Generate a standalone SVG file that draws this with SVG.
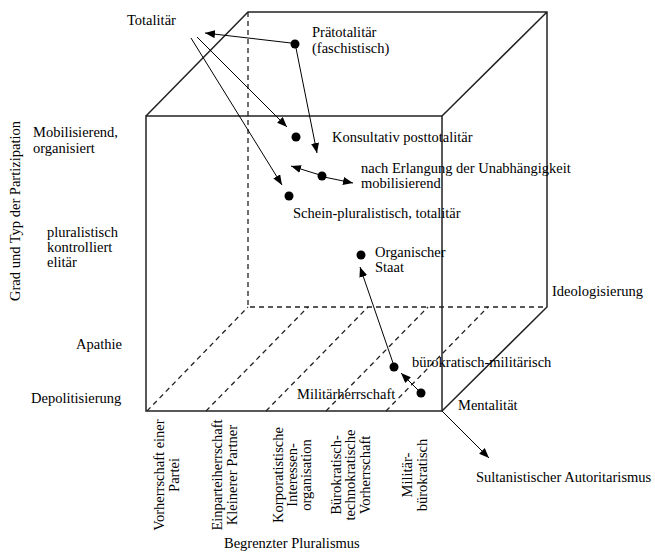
<svg xmlns="http://www.w3.org/2000/svg" width="655" height="554" viewBox="0 0 655 554">
<defs>
<marker id="ah" viewBox="0 0 10 8" refX="10" refY="4" markerWidth="10" markerHeight="8" markerUnits="userSpaceOnUse" orient="auto">
<path d="M0,0 L10,4 L0,8 z" fill="#000"/>
</marker>
</defs>
<style>
text{font-family:"Liberation Serif","Times New Roman",serif;font-size:14.5px;fill:#000}
.edge{stroke:#222;stroke-width:1.5;fill:none}
.dash{stroke:#222;stroke-width:1.3;fill:none;stroke-dasharray:5 4}
.conn{stroke:#000;stroke-width:1;fill:none;marker-end:url(#ah)}
.dot{fill:#000}
.rot{text-anchor:middle}
</style>
<rect width="655" height="554" fill="#fff"/>
<g id="cube">
<path class="dash" d="M248,12 V307 H547"/>
<path class="dash" d="M147,411 L248,307 M206,411 L308,307 M266,411 L368,307 M326,411 L428,307 M386,411 L488,307"/>
<rect class="edge" x="146" y="116" width="296" height="295"/>
<path class="edge" d="M146,116 L248,12 H547 V307 L442,411 M442,116 L547,12"/>
</g>
<g id="connectors">
<line class="conn" x1="291" y1="43" x2="205" y2="33"/>
<line class="conn" x1="296" y1="48" x2="317" y2="153"/>
<line class="conn" x1="197" y1="37" x2="287" y2="127"/>
<line class="conn" x1="191" y1="38" x2="282" y2="185"/>
<line class="conn" x1="320" y1="175" x2="291" y2="166"/>
<line class="conn" x1="324" y1="177" x2="353" y2="183"/>
<line class="conn" x1="393" y1="363" x2="360" y2="267"/>
<line class="conn" x1="419" y1="391" x2="401" y2="373"/>
<line class="conn" x1="442" y1="411" x2="489" y2="458"/>
</g>
<g id="praetotalitaer"><circle class="dot" cx="295" cy="44" r="4.5"/><text x="312" y="37">Prätotalitär</text><text x="312" y="53">(faschistisch)</text></g>
<g id="totalitaer"><text x="127" y="25">Totalitär</text></g>
<g id="konsultativ"><circle class="dot" cx="296" cy="137" r="4.5"/><text x="332" y="142">Konsultativ posttotalitär</text></g>
<g id="unabhaengigkeit"><circle class="dot" cx="322" cy="176" r="4.5"/><text x="361" y="173">nach Erlangung der Unabhängigkeit</text><text x="361" y="188">mobilisierend</text></g>
<g id="schein"><circle class="dot" cx="289" cy="196" r="4.5"/><text x="293" y="218">Schein-pluralistisch, totalitär</text></g>
<g id="organisch"><circle class="dot" cx="361" cy="255" r="4.5"/><text x="375" y="257">Organischer</text><text x="375" y="272">Staat</text></g>
<g id="buerokratisch-militaerisch"><circle class="dot" cx="394" cy="367" r="4.5"/><text x="412" y="367">bürokratisch-militärisch</text></g>
<g id="militaerherrschaft"><circle class="dot" cx="421" cy="393" r="4.5"/><text x="297" y="399">Militärherrschaft</text></g>
<g id="sultanistisch"><text x="476" y="482">Sultanistischer Autoritarismus</text></g>
<g id="axis-labels">
<text x="552" y="296">Ideologisierung</text>
<text x="458" y="410">Mentalität</text>
<text x="33" y="137">Mobilisierend,</text>
<text x="33" y="153">organisiert</text>
<text x="47" y="237">pluralistisch</text>
<text x="47" y="252">kontrolliert</text>
<text x="47" y="267">elitär</text>
<text x="76" y="349">Apathie</text>
<text x="31" y="403">Depolitisierung</text>
<text class="rot" transform="translate(20,211) rotate(-90)">Grad und Typ der Partizipation</text>
<text x="224" y="548">Begrenzter Pluralismus</text>
<text class="rot" transform="translate(164,475) rotate(-90)">Vorherrschaft einer</text>
<text class="rot" transform="translate(179,475) rotate(-90)">Partei</text>
<text class="rot" transform="translate(222,475) rotate(-90)">Einparteiherrschaft</text>
<text class="rot" transform="translate(237,475) rotate(-90)">Kleinerer Partner</text>
<text class="rot" transform="translate(283,475) rotate(-90)">Korporatistische</text>
<text class="rot" transform="translate(297,475) rotate(-90)">Interessen-</text>
<text class="rot" transform="translate(311,475) rotate(-90)">organisation</text>
<text class="rot" transform="translate(341,475) rotate(-90)">Bürokratisch-</text>
<text class="rot" transform="translate(355,475) rotate(-90)">technokratische</text>
<text class="rot" transform="translate(370,475) rotate(-90)">Vorherrschaft</text>
<text class="rot" transform="translate(412,475) rotate(-90)">Militär-</text>
<text class="rot" transform="translate(427,475) rotate(-90)">bürokratisch</text>
</g>
</svg>
